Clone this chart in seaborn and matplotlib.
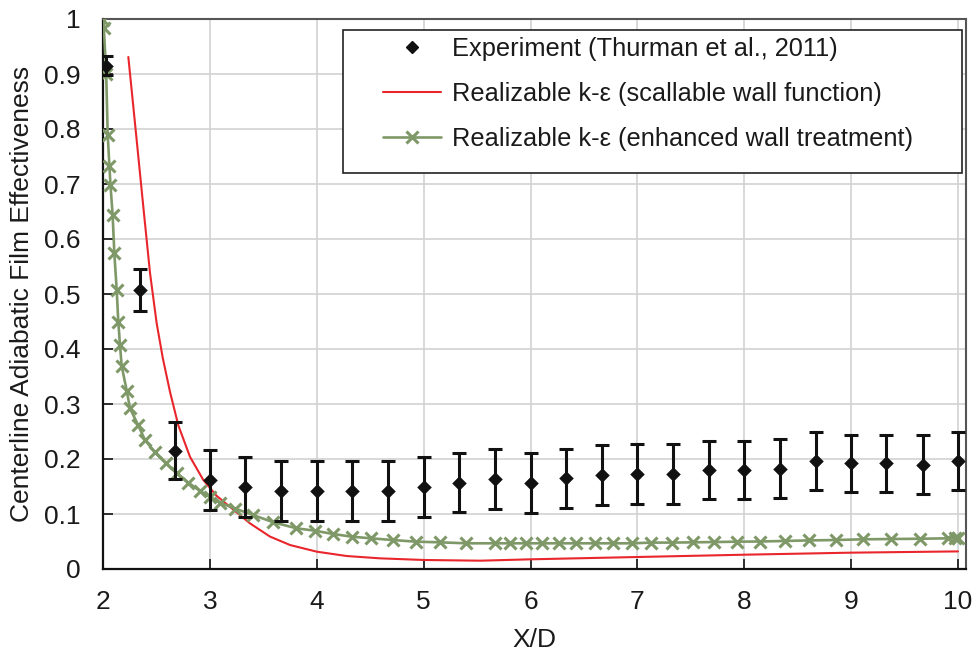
import numpy as np
import pandas as pd
import matplotlib
matplotlib.use("Agg")
import matplotlib.pyplot as plt
import seaborn as sns
from matplotlib.patches import Rectangle
from matplotlib.lines import Line2D

# ---------------- data ----------------
x_exp = [2.03, 2.35, 2.67, 3.0, 3.33, 3.67, 4.0, 4.33, 4.67, 5.0, 5.33, 5.67, 6.0,
         6.33, 6.67, 7.0, 7.33, 7.67, 8.0, 8.33, 8.67, 9.0, 9.33, 9.67, 10.0]
y_exp = [0.915, 0.507, 0.215, 0.162, 0.149, 0.142, 0.142, 0.142, 0.142, 0.149, 0.157,
         0.163, 0.156, 0.165, 0.171, 0.173, 0.173, 0.180, 0.180, 0.182, 0.197, 0.192,
         0.192, 0.190, 0.197]
err_exp = [0.017, 0.038, 0.052, 0.054, 0.055, 0.055, 0.055, 0.055, 0.055, 0.055, 0.054,
           0.0545, 0.0545, 0.054, 0.054, 0.054, 0.054, 0.0535, 0.0535, 0.0535, 0.0525,
           0.0525, 0.0525, 0.053, 0.0525]

x_red = [2.237, 2.315, 2.377, 2.44, 2.502, 2.56, 2.627, 2.705, 2.814, 2.938, 3.063,
         3.188, 3.375, 3.562, 3.75, 4.0, 4.28, 4.59, 5.0, 5.53, 6.0, 7.0, 8.0, 9.0, 10.0]
y_red = [0.931, 0.78, 0.659, 0.538, 0.447, 0.383, 0.322, 0.261, 0.204, 0.162, 0.133,
         0.113, 0.083, 0.059, 0.0436, 0.0315, 0.0236, 0.0194, 0.0164, 0.0151, 0.0176,
         0.0218, 0.026, 0.0297, 0.032]

x_grn = [2.003, 2.008, 2.03, 2.044, 2.06, 2.07, 2.09, 2.106, 2.128, 2.143, 2.159, 2.175,
         2.222, 2.253, 2.33, 2.393, 2.486, 2.589, 2.689, 2.798, 2.907, 3.0, 3.094, 3.235,
         3.406, 3.593, 3.81, 3.98, 4.155, 4.327, 4.504, 4.71, 4.928, 5.15, 5.40, 5.667,
         5.81, 5.96, 6.11, 6.27, 6.43, 6.60, 6.77, 6.95, 7.13, 7.32, 7.52, 7.72, 7.93,
         8.15, 8.38, 8.61, 8.86, 9.11, 9.37, 9.64, 9.91, 9.97, 10.0]
y_grn = [0.999, 0.983, 0.90, 0.790, 0.733, 0.698, 0.644, 0.574, 0.508, 0.450, 0.407,
         0.369, 0.324, 0.292, 0.261, 0.2345, 0.212, 0.192, 0.174, 0.157, 0.142, 0.1315,
         0.1206, 0.110, 0.098, 0.085, 0.074, 0.0697, 0.0636, 0.0588, 0.0558, 0.0527,
         0.0497, 0.0485, 0.0467, 0.0467, 0.0467, 0.0467, 0.0467, 0.0467, 0.0467, 0.0467,
         0.0467, 0.0467, 0.048, 0.048, 0.0485, 0.049, 0.0497, 0.050, 0.051, 0.052,
         0.0527, 0.054, 0.0545, 0.055, 0.0558, 0.0558, 0.0558]

x_ticks = [2, 3, 4, 5, 6, 7, 8, 9, 10]
y_ticks = [0, 0.1, 0.2, 0.3, 0.4, 0.5, 0.6, 0.7, 0.8, 0.9, 1.0]
y_ticklabels = ["0", "0.1", "0.2", "0.3", "0.4", "0.5", "0.6", "0.7", "0.8", "0.9", "1"]

labels = ["Experiment (Thurman et al., 2011)",
          "Realizable k-\u03b5 (scallable wall function)",
          "Realizable k-\u03b5 (enhanced wall treatment)"]

RED = "#e8262c"
GREEN = "#7e9868"
BLACK = "#111111"

# ---------------- figure ----------------
sns.set_theme(style="white")
plt.rcParams["font.family"] = ["Liberation Sans", "DejaVu Sans"]
plt.rcParams["text.color"] = "#1a1a1a"

W, H = 975, 652
fig = plt.figure(figsize=(W / 100, H / 100), dpi=100)
L, R, T, B = 103, 966, 19, 569
ax = fig.add_axes([L / W, 1 - B / H, (R - L) / W, (B - T) / H])

sns.lineplot(x=x_red, y=y_red, color=RED, lw=1.5, sort=False, estimator=None,
             ax=ax, zorder=3)
sns.lineplot(x=x_grn, y=y_grn, color=GREEN, lw=1.9, marker="x", markersize=9,
             markeredgewidth=2.2, markeredgecolor=GREEN, sort=False, estimator=None,
             ax=ax, zorder=3)
ax.errorbar(x_exp, y_exp, yerr=err_exp, fmt="none", ecolor=BLACK, elinewidth=2.2,
            capsize=4.7, capthick=2.2, zorder=4)
sns.scatterplot(x=x_exp, y=y_exp, marker="D", s=55, color=BLACK, edgecolor=BLACK,
                linewidth=0, ax=ax, zorder=5)

ax.set_xlim(2, 2 + (R - L) / ((958 - 103) / 8))
ax.set_ylim(0, 1)
ax.set_xticks(x_ticks)
ax.set_xticklabels([str(t) for t in x_ticks])
ax.set_yticks(y_ticks)
ax.set_yticklabels(y_ticklabels)
ax.grid(True, color="#d2d2d2", lw=1.2)
ax.set_axisbelow(True)

for s in ["left", "bottom"]:
    ax.spines[s].set_color("#111111")
    ax.spines[s].set_linewidth(1.6)
for s in ["top", "right"]:
    ax.spines[s].set_color("#555555")
    ax.spines[s].set_linewidth(1.5)

ax.tick_params(direction="in", length=7, width=1.2, color="#111111",
               labelsize=19, labelcolor="#1a1a1a", left=True, bottom=True)
ax.tick_params(axis="x", pad=15)
ax.tick_params(axis="y", pad=16)
ax.set_xlabel("X/D", fontsize=19, labelpad=10, color="#1a1a1a")
ax.set_ylabel("Centerline Adiabatic Film Effectiveness", fontsize=19, labelpad=7,
              color="#1a1a1a")

# legend box drawn separately, legend entries on top
aw, ah = R - L, B - T
ax.add_patch(Rectangle(((343 - L) / aw, (B - 173) / ah), (962 - 343) / aw,
                       (173 - 30) / ah, transform=ax.transAxes, facecolor="white",
                       edgecolor="#222222", lw=1.2, zorder=6))
h1 = Line2D([], [], ls="none", marker="D", ms=6, color=BLACK)
h2 = Line2D([], [], color=RED, lw=1.5)
h3 = Line2D([], [], color=GREEN, lw=1.9, marker="x", ms=9, mew=2.2)
leg = ax.legend([h1, h2, h3], labels, loc="upper left",
                bbox_to_anchor=((383 - L) / aw, (B - 37) / ah), frameon=False,
                fontsize=18.3, handlelength=2.3, handletextpad=0.4, labelspacing=0.82,
                borderpad=0, borderaxespad=0, numpoints=1)
leg.set_zorder(7)

fig.savefig("out.png", dpi=100)
